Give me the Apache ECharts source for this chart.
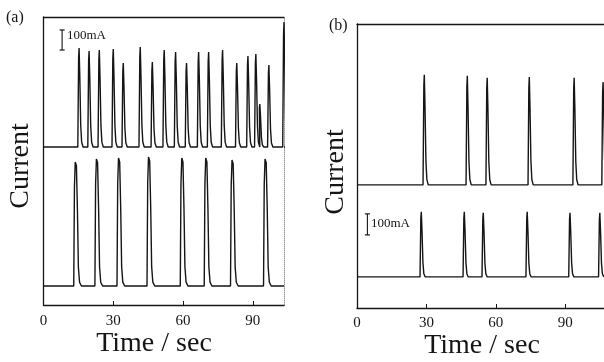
<!DOCTYPE html>
<html>
<head>
<meta charset="utf-8">
<script src="https://cdn.jsdelivr.net/npm/echarts@6/dist/echarts.min.js"></script>
<style>html,body{margin:0;padding:0;background:#fff}#c{width:604px;height:362px}</style>
</head>
<body>
<div id="c"></div>
<script>
// ---- data (time in sec, spike amplitude in mA above each trace's baseline) ----
const tickLabels = [0, 30, 60, 90];
const tickMarks = [30, 60, 90];

const aTopPeakTimes = [15.3, 19.6, 24.0, 30.0, 34.3, 41.6, 46.8, 51.9, 56.8, 61.5, 66.7, 71.0, 77.0, 83.1, 87.9, 91.3, 93.0, 96.9, 103.4];
const aTopPeakAmps  = [495, 480, 485, 490, 420, 500, 425, 485, 475, 420, 475, 475, 485, 420, 455, 465, 215, 410, 625];

const aBotPeakTimes = [14.0, 23.1, 32.6, 45.5, 59.8, 70.1, 81.4, 95.6];
const aBotPeakAmps  = [620, 635, 640, 645, 640, 640, 630, 635];

const bTopPeakTimes = [29.1, 47.7, 56.3, 74.5, 93.9, 106.4];
const bTopPeakAmps  = [524, 519, 510, 514, 510, 490];

const bBotPeakTimes = [27.8, 46.4, 54.6, 73.6, 92.1, 105.0];
const bBotPeakAmps  = [310, 310, 305, 310, 305, 305];

const scaleBarmA = 100;

// ---- layout / shape (not data) ----
const A_MAX = 103.4, B_MAX = 106.8;
const A_YMAX = 1440, B_YMAX = 1352;
const aTopBase = 790, aBotBase = 95;
const bTopBase = 586, bBotBase = 148;

// spike outline: [time offset from peak (s), fraction of amplitude]
const narrowShape = [[-0.55,0],[-0.2,0.9],[0,1],[0.3,0.72],[0.7,0.22],[1.1,0.05],[1.7,0]];
const wideShape   = [[-1.0,0],[-0.7,0.8],[-0.35,1],[0.15,0.97],[0.6,0.6],[1.0,0.15],[1.5,0.03],[2.3,0]];

function trace(times, amps, base, shape, xmax) {
  const pts = [[0, base]];
  times.forEach((t, i) => {
    shape.forEach(([dt, f]) => pts.push([t + dt, base + f * amps[i]]));
  });
  pts.push([xmax, base]);
  return pts;
}

const ink = '#151515';
const serif = 'Liberation Serif';

function lineSeries(xi, yi, data) {
  return {
    type: 'line', xAxisIndex: xi, yAxisIndex: yi, data: data,
    showSymbol: false, smooth: false, clip: true, silent: true,
    lineStyle: { color: ink, width: 1.4 }
  };
}
function scaleBar(xi, yi, t, y0) {
  return {
    type: 'line', xAxisIndex: xi, yAxisIndex: yi, silent: true,
    data: [[t, y0], [t, y0 + scaleBarmA]],
    showSymbol: true, symbol: 'rect', symbolSize: [5, 1.2],
    itemStyle: { color: ink }, lineStyle: { color: ink, width: 1.1 }
  };
}

function xAxisBottom(gi, max, margin) {
  return {
    type: 'value', gridIndex: gi, position: 'bottom', min: 0, max: max, interval: 30,
    axisLine: { show: true, lineStyle: { color: ink, width: 1.3 } },
    axisTick: { show: true, inside: true, length: 4, customValues: tickMarks, lineStyle: { color: ink } },
    axisLabel: { show: true, customValues: tickLabels, margin: margin, fontFamily: serif, fontSize: 15, color: ink },
    splitLine: { show: false }
  };
}
function xAxisTop(gi, max) {
  return {
    type: 'value', gridIndex: gi, position: 'top', min: 0, max: max,
    axisLine: { show: true, onZero: false, lineStyle: { color: ink, width: 1.3 } },
    axisTick: { show: false }, axisLabel: { show: false }, splitLine: { show: false }
  };
}
function yAxis(gi, max, pos, style) {
  return {
    type: 'value', gridIndex: gi, position: pos, min: 0, max: max,
    axisLine: { show: true, onZero: false, lineStyle: style },
    axisTick: { show: false }, axisLabel: { show: false }, splitLine: { show: false }
  };
}

const chart = echarts.init(document.getElementById('c'), null, { renderer: 'canvas' });
chart.setOption({
  backgroundColor: '#ffffff',
  animation: false,
  grid: [
    { left: 43.5, right: 320, top: 17, bottom: 57 },
    { left: 357, right: 0, top: 24, bottom: 54 }
  ],
  xAxis: [
    xAxisBottom(0, A_MAX, 9),
    xAxisBottom(1, B_MAX, 8),
    xAxisTop(0, A_MAX),
    xAxisTop(1, B_MAX)
  ],
  yAxis: [
    yAxis(0, A_YMAX, 'left', { color: ink, width: 1.3 }),
    yAxis(0, A_YMAX, 'right', { color: '#9a9a9a', width: 1, type: 'dotted' }),
    yAxis(1, B_YMAX, 'left', { color: ink, width: 1.3 })
  ],
  series: [
    lineSeries(0, 0, trace(aTopPeakTimes, aTopPeakAmps, aTopBase, narrowShape, A_MAX)),
    lineSeries(0, 0, trace(aBotPeakTimes, aBotPeakAmps, aBotBase, wideShape, A_MAX)),
    lineSeries(1, 2, trace(bTopPeakTimes, bTopPeakAmps, bTopBase, narrowShape, B_MAX)),
    lineSeries(1, 2, trace(bBotPeakTimes, bBotPeakAmps, bBotBase, narrowShape, B_MAX)),
    scaleBar(0, 0, 8.0, 1275),
    scaleBar(1, 2, 4.5, 348)
  ],
  graphic: [
    { type: 'text', left: 6, top: 10, style: { text: '(a)', font: '16px "Liberation Serif"', fill: ink } },
    { type: 'text', left: 329, top: 18, style: { text: '(b)', font: '16px "Liberation Serif"', fill: ink } },
    { type: 'text', left: 67, top: 29, style: { text: '100mA', font: '13px "Liberation Serif"', fill: ink } },
    { type: 'text', left: 371, top: 217, style: { text: '100mA', font: '13px "Liberation Serif"', fill: ink } },
    { type: 'text', x: 154, y: 344, style: { text: 'Time / sec', font: '28px "Liberation Serif"', fill: ink, align: 'center', verticalAlign: 'middle' } },
    { type: 'text', x: 482, y: 346, style: { text: 'Time / sec', font: '28px "Liberation Serif"', fill: ink, align: 'center', verticalAlign: 'middle' } },
    { type: 'text', x: 21, y: 166, rotation: Math.PI / 2, style: { text: 'Current', font: '28px "Liberation Serif"', fill: ink, align: 'center', verticalAlign: 'middle' } },
    { type: 'text', x: 336, y: 172, rotation: Math.PI / 2, style: { text: 'Current', font: '28px "Liberation Serif"', fill: ink, align: 'center', verticalAlign: 'middle' } }
  ]
});
</script>
</body>
</html>
